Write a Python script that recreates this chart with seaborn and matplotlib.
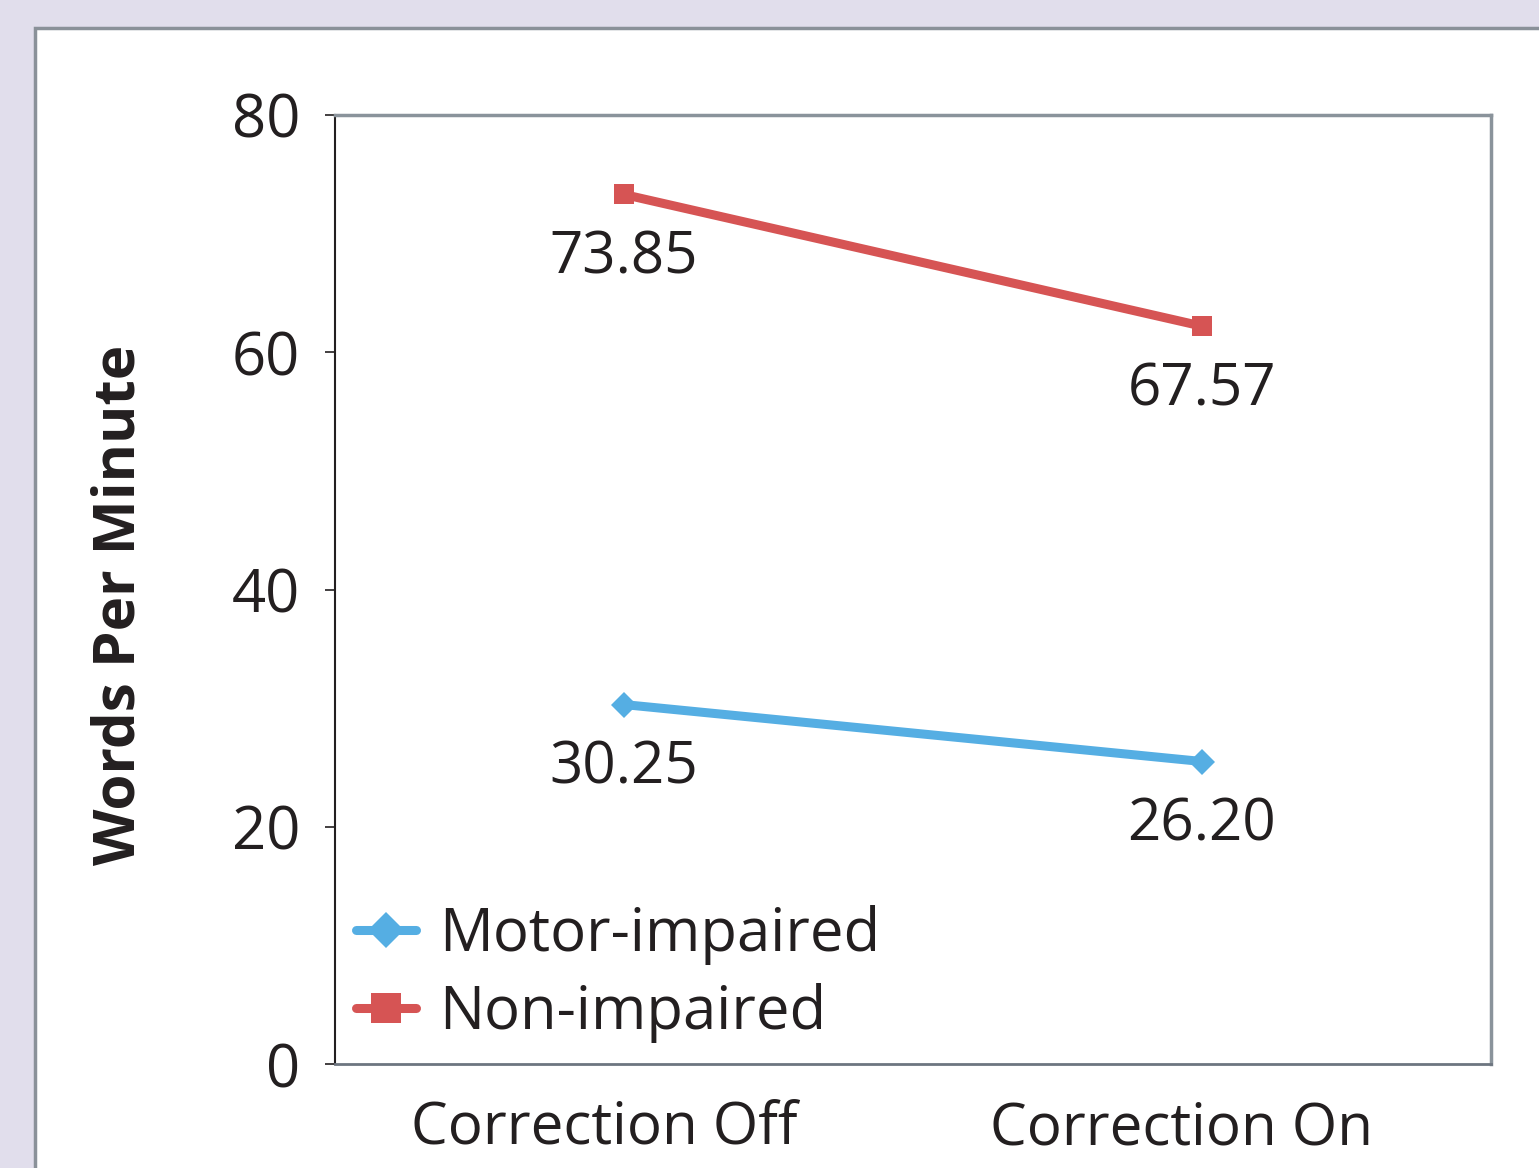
import pandas as pd
import matplotlib.pyplot as plt
import matplotlib.transforms as mtransforms
import seaborn as sns
from matplotlib.patches import Rectangle

# data
conditions = ['Correction Off', 'Correction On']
groups = ['Motor-impaired', 'Non-impaired']
motor_wpm = [30.3, 25.5]
nonimp_wpm = [73.3, 62.2]
motor_labels = ['30.25', '26.20']
nonimp_labels = ['73.85', '67.57']
y_ticks = [0, 20, 40, 60, 80]

df = pd.DataFrame({
    'Condition': conditions * 2,
    'Group': [groups[0]] * 2 + [groups[1]] * 2,
    'WPM': motor_wpm + nonimp_wpm,
    'Label': motor_labels + nonimp_labels,
})

sns.set_style('white')
plt.rcParams['font.family'] = ['Open Sans', 'DejaVu Sans']

fig = plt.figure(figsize=(15.39, 11.68), dpi=100, facecolor='#E1DEEC')
# white panel with grey border
fig.patches.append(Rectangle((35 / 1539, -0.05), 1.1, 1 - 28 / 1168 + 0.05,
                             transform=fig.transFigure, facecolor='white',
                             edgecolor='#8A9199', linewidth=2.5, zorder=-10))

ax = fig.add_axes([335 / 1539, 1 - 1064 / 1168, (1491 - 335) / 1539, (1064 - 115) / 1168])
ax.set_facecolor('white')

palette = {'Motor-impaired': '#55AEE3', 'Non-impaired': '#D65454'}
markers = {'Motor-impaired': 'D', 'Non-impaired': 's'}
sizes = {'Motor-impaired': 13, 'Non-impaired': 15}

for g in groups:
    sub = df[df['Group'] == g]
    sns.lineplot(data=sub, x='Condition', y='WPM', color=palette[g], marker=markers[g],
                 markersize=sizes[g], markeredgewidth=0, linewidth=6.5, ax=ax, label=g,
                 sort=False)
    for i, (_, row) in enumerate(sub.iterrows()):
        ax.annotate(row['Label'], (i, row['WPM']), xytext=(0, -46), textcoords='offset points',
                    ha='center', va='center', fontsize=42, color='#231F20')

ax.set_xlim(-0.5, 1.5)
ax.set_ylim(0, 80)
ax.set_yticks(y_ticks)
ax.set_xticks([0, 1])
ax.set_xticklabels(conditions)
ax.set_xticks([-0.5, 0.5, 1.5], minor=True)
ax.tick_params(axis='x', which='major', length=0, pad=26, labelsize=42, labelcolor='#231F20')
ax.tick_params(axis='x', which='minor', length=8, width=1.2, direction='inout', color='#231F20')
ax.tick_params(axis='y', length=7, width=1.2, direction='out', left=True, pad=18,
               labelsize=43, labelcolor='#231F20', color='#231F20')
shift = mtransforms.ScaledTranslation(-0.2, 0, fig.dpi_scale_trans)
for lbl in ax.get_xticklabels():
    lbl.set_transform(lbl.get_transform() + shift)
ax.set_xlabel('')
ax.set_ylabel('Words Per Minute', fontsize=42, fontweight='bold', color='#231F20')
ax.yaxis.set_label_coords(-0.161, 0.484)

for side in ['top', 'right']:
    ax.spines[side].set_color('#8A939B')
    ax.spines[side].set_linewidth(2.5)
ax.spines['bottom'].set_color('#6D7580')
ax.spines['bottom'].set_linewidth(2)
ax.spines['left'].set_color('#231F20')
ax.spines['left'].set_linewidth(1.5)

leg = ax.legend(loc='lower left', bbox_to_anchor=(0.0, 0.0), frameon=False, fontsize=43,
                handlelength=1.0, handletextpad=0.4, labelspacing=0.3, borderaxespad=0.1,
                borderpad=0.25, markerscale=1.4)
for t in leg.get_texts():
    t.set_color('#231F20')

fig.savefig('out.png', dpi=100, facecolor=fig.get_facecolor())
